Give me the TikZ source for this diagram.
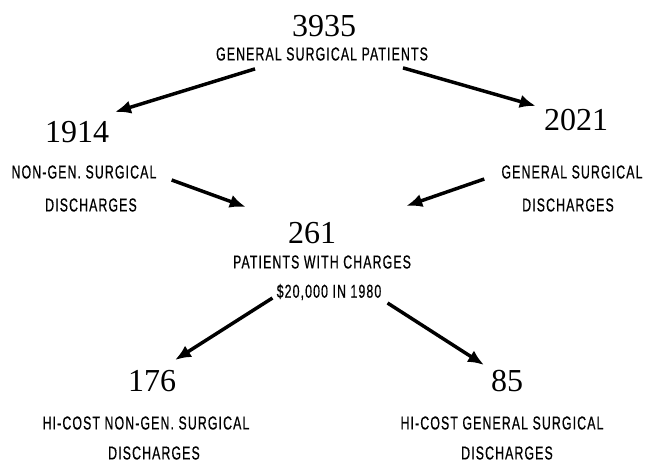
\documentclass[tikz,border=0pt]{standalone}
\usepackage{fontspec}
\usepackage{tikz}
\usetikzlibrary{arrows.meta}
\newfontfamily\numfont{Liberation Serif}
\newfontfamily\labfont[FakeStretch=0.66,LetterSpace=6,FakeBold=0.6]{Liberation Sans}

\begin{document}
\begin{tikzpicture}[x=0.75pt, y=-0.75pt,
    num/.style={font=\numfont\fontsize{24}{24}\selectfont, inner sep=0pt},
    lab/.style={font=\labfont\fontsize{14}{15}\selectfont, inner sep=0pt},
    flow/.style={line width=2.6pt, -{Latex[length=12pt,width=10pt]}}]
                \useasboundingbox (0,0) rectangle (645,462);

                \node [num] (n3935) at (324,26) {3935};
                \node [lab] (lab3935) at (322,54) {GENERAL SURGICAL PATIENTS};

                \node [num] (n1914) at (77,132) {1914};
                \node [lab] (lab1914a) at (84,172) {NON-GEN. SURGICAL};
                \node [lab] (lab1914b) at (91,205) {DISCHARGES};

                \node [num] (n2021) at (576,120) {2021};
                \node [lab] (lab2021a) at (572,172) {GENERAL SURGICAL};
                \node [lab] (lab2021b) at (568,205) {DISCHARGES};

                \node [num] (n261) at (312,233) {261};
                \node [lab] (lab261a) at (322,262) {PATIENTS WITH CHARGES};
                \node [lab] (lab261b) at (329,292) {\$20,000 IN 1980};

                \node [num] (n176) at (152,381) {176};
                \node [lab] (lab176a) at (146,423) {HI-COST NON-GEN. SURGICAL};
                \node [lab] (lab176b) at (154,453) {DISCHARGES};

                \node [num] (n85) at (507,381) {85};
                \node [lab] (lab85a) at (502,423) {HI-COST GENERAL SURGICAL};
                \node [lab] (lab85b) at (507,453) {DISCHARGES};

                \draw [flow] ([shift={(-67,8)}]lab3935.south) -- ([shift={(38,-9)}]n1914.north);
                \draw [flow] ([shift={(81,7)}]lab3935.south) -- ([shift={(-8,-3)}]n2021.north west);
                \draw [flow] ([shift={(15,8)}]lab1914a.east) -- ([shift={(-42,-15)}]n261.north west);
                \draw [flow] ([shift={(-17,7)}]lab2021a.west) -- ([shift={(70,-16)}]n261.north east);
                \draw [flow] ([shift={(-4,6)}]lab261b.west) -- ([shift={(23,-10)}]n176.north);
                \draw [flow] ([shift={(6,11)}]lab261b.east) -- ([shift={(-23,-5)}]n85.north);
\end{tikzpicture}
\end{document}
